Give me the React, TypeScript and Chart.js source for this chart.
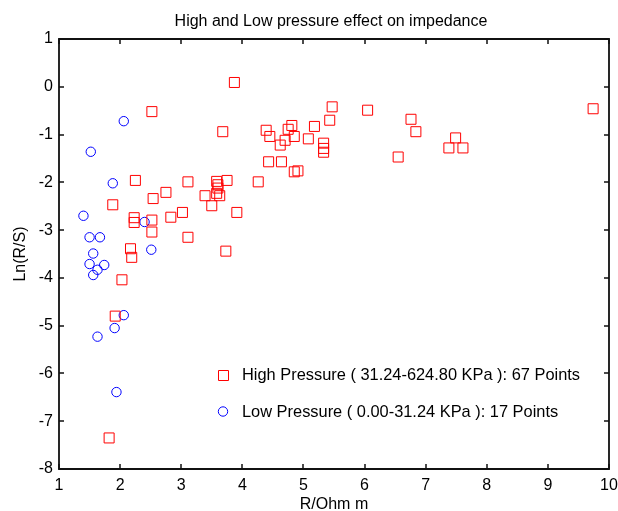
import React, { useEffect, useRef } from "react";
import { Chart, registerables } from "chart.js";

Chart.register(...registerables);

const highX = [3.87, 2.52, 3.68, 2.25, 3.11, 3.75, 3.58, 3.60, 3.58, 3.63, 2.75, 2.54, 3.39, 3.50, 1.88, 3.91, 3.02, 2.83, 2.23, 2.23, 2.52, 2.52, 3.11, 3.73, 2.17, 2.19, 2.03, 1.92, 1.82, 5.47, 6.05, 6.76, 6.84, 5.43, 5.18, 4.81, 4.75, 4.39, 4.45, 4.85, 4.70, 5.08, 4.62, 5.33, 5.33, 5.33, 6.55, 4.43, 4.64, 4.85, 4.91, 4.26, 9.74, 7.49, 7.38, 7.61, 3.60];
const highY = [0.09, -0.52, -0.94, -1.96, -1.99, -1.96, -1.98, -2.05, -2.23, -2.28, -2.21, -2.34, -2.28, -2.49, -2.47, -2.63, -2.63, -2.73, -2.74, -2.84, -2.79, -3.04, -3.15, -3.44, -3.39, -3.57, -4.04, -4.80, -7.35, -0.42, -0.49, -0.68, -0.94, -0.70, -0.83, -0.81, -0.89, -0.91, -1.04, -1.04, -1.12, -1.09, -1.22, -1.18, -1.29, -1.37, -1.47, -1.57, -1.57, -1.78, -1.76, -1.99, -0.46, -1.07, -1.28, -1.28, -2.12];

const lowX = [2.06, 1.52, 1.88, 1.40, 2.40, 1.50, 1.67, 1.56, 2.51, 1.50, 1.74, 1.63, 1.56, 2.06, 1.91, 1.63, 1.94];
const lowY = [-0.72, -1.36, -2.02, -2.70, -2.83, -3.15, -3.15, -3.49, -3.41, -3.71, -3.73, -3.83, -3.94, -4.78, -5.05, -5.23, -6.39];

const highLabel = "High Pressure ( 31.24-624.80 KPa ): 67 Points";
const lowLabel = "Low Pressure ( 0.00-31.24 KPa ): 17 Points";
const chartTitle = "High and Low pressure effect on impedance";
const xTitle = "R/Ohm m";
const yTitle = "Ln(R/S)";
const xMin = 1, xMax = 10, yMin = -8, yMax = 1;

const FONT = "'Liberation Sans', Arial, Helvetica, sans-serif";
const FS = 16;

const framePlugin = {
  id: "frameTicks",
  afterDatasetsDraw(chart: any) {
    const { ctx, chartArea, scales } = chart;
    const { left, right, top, bottom } = chartArea;
    const xs = scales.x, ys = scales.y;
    const L = Math.round(left), R = Math.round(right);
    const T = Math.round(top), B = Math.round(bottom);
    ctx.save();
    ctx.strokeStyle = "#111";
    ctx.lineWidth = 1.8;
    ctx.beginPath();
    ctx.rect(L, T, R - L, B - T);
    ctx.stroke();
    const tl = 5;
    ctx.lineWidth = 1.5;
    ctx.beginPath();
    xs.ticks.forEach((t: any) => {
      const px = Math.round(xs.getPixelForValue(t.value));
      ctx.moveTo(px, B); ctx.lineTo(px, B - tl);
      ctx.moveTo(px, T); ctx.lineTo(px, T + tl);
    });
    ys.ticks.forEach((t: any) => {
      const py = Math.round(ys.getPixelForValue(t.value));
      ctx.moveTo(L, py); ctx.lineTo(L + tl, py);
      ctx.moveTo(R, py); ctx.lineTo(R - tl, py);
    });
    ctx.stroke();

    // title
    ctx.fillStyle = "#000";
    ctx.font = `${FS}px ${FONT}`;
    ctx.textAlign = "center";
    ctx.textBaseline = "alphabetic";
    ctx.fillText(chartTitle, (left + right) / 2 - 3, 26);

    // legend inside the plot area
    const ds = chart.data.datasets;
    const mx = left + 164;
    const rows = [top + 335.5, top + 372.5];
    ctx.font = `16.4px ${FONT}`;
    ctx.textBaseline = "middle";
    ctx.textAlign = "left";
    ds.forEach((d: any, i: number) => {
      const y = rows[i];
      ctx.strokeStyle = d.borderColor;
      ctx.lineWidth = 1;
      ctx.beginPath();
      if (d.pointStyle === "rect") {
        ctx.rect(Math.round(mx) - 4.5, Math.round(y) - 4.5, 10, 10);
      } else {
        ctx.arc(mx, y, 4.7, 0, Math.PI * 2);
      }
      ctx.stroke();
      ctx.fillStyle = "#000";
      ctx.fillText(d.label, mx + 19, y + 1);
    });
    ctx.restore();
  },
};

export default function App() {
  const ref = useRef<HTMLCanvasElement>(null);
  useEffect(() => {
    if (!ref.current) return;
    const chart = new Chart(ref.current, {
      type: "scatter",
      data: {
        datasets: [
          {
            label: highLabel,
            data: highX.map((x, i) => ({ x, y: highY[i] })),
            pointStyle: "rect",
            pointRadius: 7.07,
            pointBorderWidth: 1,
            borderColor: "#ff0000",
            backgroundColor: "rgba(0,0,0,0)",
            pointBackgroundColor: "rgba(0,0,0,0)",
            pointBorderColor: "#ff0000",
          },
          {
            label: lowLabel,
            data: lowX.map((x, i) => ({ x, y: lowY[i] })),
            pointStyle: "circle",
            pointRadius: 4.7,
            pointBorderWidth: 1,
            borderColor: "#0000ff",
            backgroundColor: "rgba(0,0,0,0)",
            pointBackgroundColor: "rgba(0,0,0,0)",
            pointBorderColor: "#0000ff",
          },
        ],
      },
      options: {
        responsive: false,
        animation: false,
        layout: { padding: { left: 0, right: 9, top: 39, bottom: 0 } },
        plugins: {
          legend: { display: false },
          tooltip: { enabled: false },
          title: { display: false },
        },
        scales: {
          x: {
            type: "linear",
            min: xMin,
            max: xMax,
            grid: { display: false, drawTicks: false },
            border: { display: false },
            ticks: { stepSize: 1, color: "#000", padding: 7, font: { family: FONT, size: FS }, maxRotation: 0 },
            title: { display: true, text: xTitle, color: "#000", font: { family: FONT, size: FS }, padding: { top: 0, bottom: -3 } },
            afterFit: (s: any) => { s.height = 42; s.paddingLeft = 0; s.paddingRight = 0; },
          },
          y: {
            type: "linear",
            min: yMin,
            max: yMax,
            grid: { display: false, drawTicks: false },
            border: { display: false },
            ticks: { stepSize: 1, color: "#000", padding: 6, font: { family: FONT, size: FS } },
            title: { display: true, text: yTitle, color: "#000", font: { family: FONT, size: FS }, padding: { top: 11, bottom: 0 } },
            afterFit: (s: any) => { s.width = 59; s.paddingTop = 0; s.paddingBottom = 0; },
          },
        },
      },
      plugins: [framePlugin],
    });
    return () => chart.destroy();
  }, []);
  return (
    <div style={{ position: "fixed", left: 0, top: 0, width: 618, height: 511, background: "#fff" }}>
      <canvas ref={ref} width={618} height={511} style={{ display: "block" }} />
    </div>
  );
}
